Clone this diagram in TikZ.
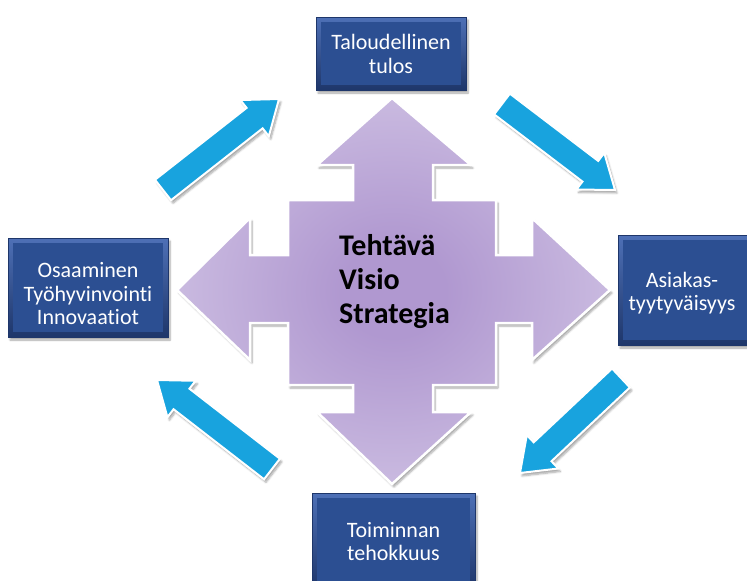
\documentclass[tikz,border=0pt]{standalone}
\usepackage{fontspec}
\setmainfont{Carlito}[Ligatures={NoCommon,NoRare}]
\usetikzlibrary{calc,shadows.blur}
\definecolor{boxblue}{RGB}{44,79,146}
\definecolor{boxlight}{RGB}{78,112,182}
\definecolor{boxdark}{RGB}{30,54,106}
\definecolor{arrowblue}{RGB}{24,163,222}
\definecolor{lavin}{RGB}{176,152,208}
\definecolor{lavout}{RGB}{224,216,238}
\pgfdeclareradialshading{crossshade}{\pgfpoint{0bp}{0bp}}{color(0bp)=(lavin); color(6bp)=(lavin); color(42bp)=(lavout); color(50bp)=(lavout)}
\newcommand\bluearrow[2]{%
  \coordinate (bah) at ($(#2)!31pt!(#1)$);
  \draw[bluearr] ($(#1)!13pt!90:(#2)$) -- ($(bah)!13pt!90:(#2)$) -- ($(bah)!23pt!90:(#2)$) -- (#2)
    -- ($(bah)!23pt!-90:(#2)$) -- ($(bah)!13pt!-90:(#2)$) -- ($(#1)!13pt!-90:(#2)$) -- cycle;}
\tikzset{
  box/.style={draw=boxdark, line width=0.6pt, top color=boxlight, bottom color=boxdark,
    blur shadow={shadow xshift=2pt, shadow yshift=-3pt, shadow blur steps=6, shadow opacity=35},
    path picture={\fill[boxblue] ($(path picture bounding box.south west)+(5,-5)$) rectangle ($(path picture bounding box.north east)+(-5,5)$);}},
  boxtext/.style={text=white, align=center, inner sep=0pt, font=\fontsize{22}{23.5}\selectfont},
  bluearr/.style={fill=arrowblue, draw=white, line width=2pt, line join=miter,
    blur shadow={shadow xshift=2pt, shadow yshift=-3pt, shadow blur steps=6, shadow opacity=35}},
  cross/.style={shading=crossshade, draw=white, line width=2.5pt, line join=miter,
    blur shadow={shadow xshift=2pt, shadow yshift=-3pt, shadow blur steps=6, shadow opacity=35}},
}
\begin{document}
\begin{tikzpicture}[x=1pt,y=-1pt]
\useasboundingbox (0,0) rectangle (747,581);
\clip (0,0) rectangle (747,581);
% central cross
\draw[cross] (392,98) -- (471,165) -- (433,165) -- (433,200) -- (496,200) -- (496,255) -- (532,255) -- (532,218)
  -- (610,290) -- (532,360) -- (532,323) -- (496,323) -- (496,385) -- (433,385) -- (433,412) -- (471,412)
  -- (392,484) -- (317,412) -- (353,412) -- (353,385) -- (288,385) -- (288,323) -- (250,323) -- (250,360)
  -- (177,290) -- (250,218) -- (250,255) -- (288,255) -- (288,200) -- (353,200) -- (353,165) -- (317,165) -- cycle;
\node[font=\fontsize{30}{34}\selectfont\bfseries, align=left, anchor=west, inner sep=0pt] (ctext) at (339,282) {Tehtävä\\Visio\\Strategia};
% boxes
\node[box, minimum width=150pt, minimum height=73pt, inner sep=0pt] (tal) at (391,53.5) {};
\node[boxtext] (taltext) at (391,54) {Taloudellinen\\tulos};
\node[box, minimum width=160pt, minimum height=99pt, inner sep=0pt] (osa) at (88,287.5) {};
\node[boxtext] (osatext) at (88,294) {Osaaminen\\Työhyvinvointi\\Innovaatiot};
\node[box, minimum width=134pt, minimum height=110pt, inner sep=0pt] (asi) at (685,290) {};
\node[boxtext] (asitext) at (682,293) {Asiakas-\\tyytyväisyys};
\node[box, minimum width=163pt, minimum height=96pt, inner sep=0pt] (toi) at (393.5,541) {};
\node[boxtext] (toitext) at (393.5,541.5) {Toiminnan\\tehokkuus};
% blue arrows
\coordinate (a1t) at (163,190); \coordinate (a1p) at (279,99);
\coordinate (a2t) at (502,104); \coordinate (a2p) at (615,190);
\coordinate (a3t) at (621,378); \coordinate (a3p) at (520,473);
\coordinate (a4t) at (272,469); \coordinate (a4p) at (157,380);
\bluearrow{a1t}{a1p}
\bluearrow{a2t}{a2p}
\bluearrow{a3t}{a3p}
\bluearrow{a4t}{a4p}
\end{tikzpicture}
\end{document}
